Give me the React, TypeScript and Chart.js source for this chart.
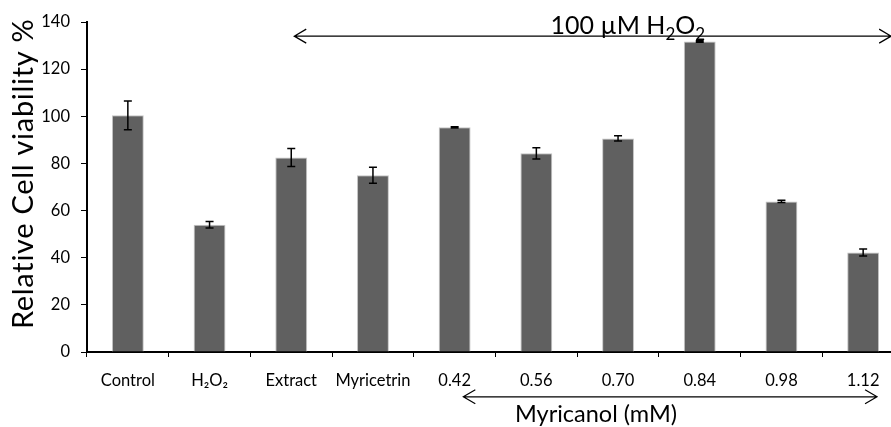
import React, { useEffect, useRef } from "react";
import { Chart, registerables } from "chart.js";

Chart.register(...registerables);

const categories = ["Control", "H₂O₂", "Extract", "Myricetrin", "0.42", "0.56", "0.70", "0.84", "0.98", "1.12"];
const viability = [100.4, 54, 82.5, 75, 95.3, 84.3, 90.6, 131.7, 63.9, 42.2];
const errors = [6.1, 1.4, 3.8, 3.4, 0.3, 2.4, 1.1, 0.3, 0.5, 1.5];
const yTicks = [0, 20, 40, 60, 80, 100, 120, 140];

const FONT = "Lato, 'Open Sans', sans-serif";

function drawArrow(ctx: CanvasRenderingContext2D, x1: number, x2: number, y: number) {
  ctx.save();
  ctx.strokeStyle = "#000";
  ctx.lineWidth = 1.2;
  ctx.beginPath();
  ctx.moveTo(x1, y);
  ctx.lineTo(x2, y);
  ctx.moveTo(x1 + 12, y - 7);
  ctx.lineTo(x1, y);
  ctx.lineTo(x1 + 12, y + 7);
  ctx.moveTo(x2 - 12, y - 7);
  ctx.lineTo(x2, y);
  ctx.lineTo(x2 - 12, y + 7);
  ctx.stroke();
  ctx.restore();
}

const extrasPlugin = {
  id: "extras",
  afterDatasetsDraw(chart: any) {
    const ctx: CanvasRenderingContext2D = chart.ctx;
    const xs = chart.scales.x;
    const ys = chart.scales.y;
    // error bars
    ctx.save();
    ctx.strokeStyle = "#000";
    ctx.lineWidth = 1.5;
    viability.forEach((v, i) => {
      const x = xs.getPixelForValue(i);
      const yt = ys.getPixelForValue(v + errors[i]);
      const yb = ys.getPixelForValue(v - errors[i]);
      ctx.beginPath();
      ctx.moveTo(x, yt);
      ctx.lineTo(x, yb);
      ctx.moveTo(x - 4, yt);
      ctx.lineTo(x + 4, yt);
      ctx.moveTo(x - 4, yb);
      ctx.lineTo(x + 4, yb);
      ctx.stroke();
    });
    ctx.restore();

    // top arrow + label
    const yTop = ys.getPixelForValue(134);
    drawArrow(ctx, xs.getPixelForValue(2) + 3, xs.getPixelForValue(9) + 28, yTop);
    ctx.save();
    ctx.fillStyle = "#000";
    ctx.textBaseline = "alphabetic";
    const big = "25px " + FONT;
    const small = "17px " + FONT;
    const parts: [string, boolean][] = [["100 µM H", false], ["2", true], ["O", false], ["2", true]];
    let total = 0;
    parts.forEach(([t, s]) => {
      ctx.font = s ? small : big;
      total += ctx.measureText(t).width;
    });
    let cx = xs.getPixelForValue(6.12) - total / 2;
    const base = yTop - 2.5;
    parts.forEach(([t, s]) => {
      ctx.font = s ? small : big;
      ctx.fillText(t, cx, s ? base + 6 : base);
      cx += ctx.measureText(t).width;
    });
    ctx.restore();

    // bottom arrow + label
    const yBot = ys.getPixelForValue(-19);
    drawArrow(ctx, xs.getPixelForValue(4.106), xs.getPixelForValue(9.17), yBot);
    ctx.save();
    ctx.fillStyle = "#000";
    ctx.font = "23.5px " + FONT;
    ctx.textAlign = "center";
    ctx.textBaseline = "alphabetic";
    ctx.fillText("Myricanol (mM)", xs.getPixelForValue(5.73), ys.getPixelForValue(-29.8));
    ctx.restore();

    // y title
    ctx.save();
    ctx.fillStyle = "#000";
    ctx.font = "29px " + FONT;
    (ctx as any).letterSpacing = "0.7px";
    ctx.textAlign = "center";
    ctx.textBaseline = "alphabetic";
    ctx.translate(chart.chartArea.left - 54, ys.getPixelForValue(75.6));
    ctx.rotate(-Math.PI / 2);
    ctx.fillText("Relative Cell viability %", 0, 0);
    ctx.restore();
  },
};

export default function App() {
  const ref = useRef<HTMLCanvasElement>(null);
  useEffect(() => {
    document.documentElement.style.overflow = "hidden";
    document.body.style.margin = "0";
    document.body.style.overflow = "hidden";
    const chart = new Chart(ref.current!, {
      type: "bar",
      data: {
        labels: categories,
        datasets: [
          {
            data: viability,
            backgroundColor: "#606060",
            borderColor: "#c4c4c4",
            borderWidth: 1,
            categoryPercentage: 1,
            barPercentage: 0.39,
          },
        ],
      },
      options: {
        animation: false,
        responsive: false,
        maintainAspectRatio: false,
        layout: { padding: { left: 0, right: 16, top: 22, bottom: 0 } },
        plugins: { legend: { display: false }, tooltip: { enabled: false } },
        scales: {
          x: {
            grid: { drawOnChartArea: false, drawTicks: true, tickLength: 5, color: "#000", offset: true },
            border: { display: true, color: "#000", width: 2 },
            ticks: { color: "#000", font: { family: FONT, size: 16.5 }, padding: 14, maxRotation: 0, autoSkip: false },
            afterFit: (s: any) => {
              s.height = 75;
            },
          },
          y: {
            min: 0,
            max: 140,
            afterBuildTicks: (s: any) => {
              s.ticks = yTicks.map((v) => ({ value: v }));
            },
            grid: { drawOnChartArea: false, drawTicks: true, tickLength: 6, color: "#000" },
            border: { display: true, color: "#000", width: 2 },
            ticks: { color: "#000", font: { family: FONT, size: 16.5 }, padding: 11 },
            afterFit: (s: any) => {
              s.width = 87;
            },
          },
        },
      },
      plugins: [extrasPlugin],
    });
    return () => chart.destroy();
  }, []);
  return (
    <div style={{ position: "absolute", left: 0, top: 0, width: 920, height: 427 }}>
      <canvas ref={ref} width={920} height={427} style={{ display: "block", width: 920, height: 427 }} />
    </div>
  );
}
